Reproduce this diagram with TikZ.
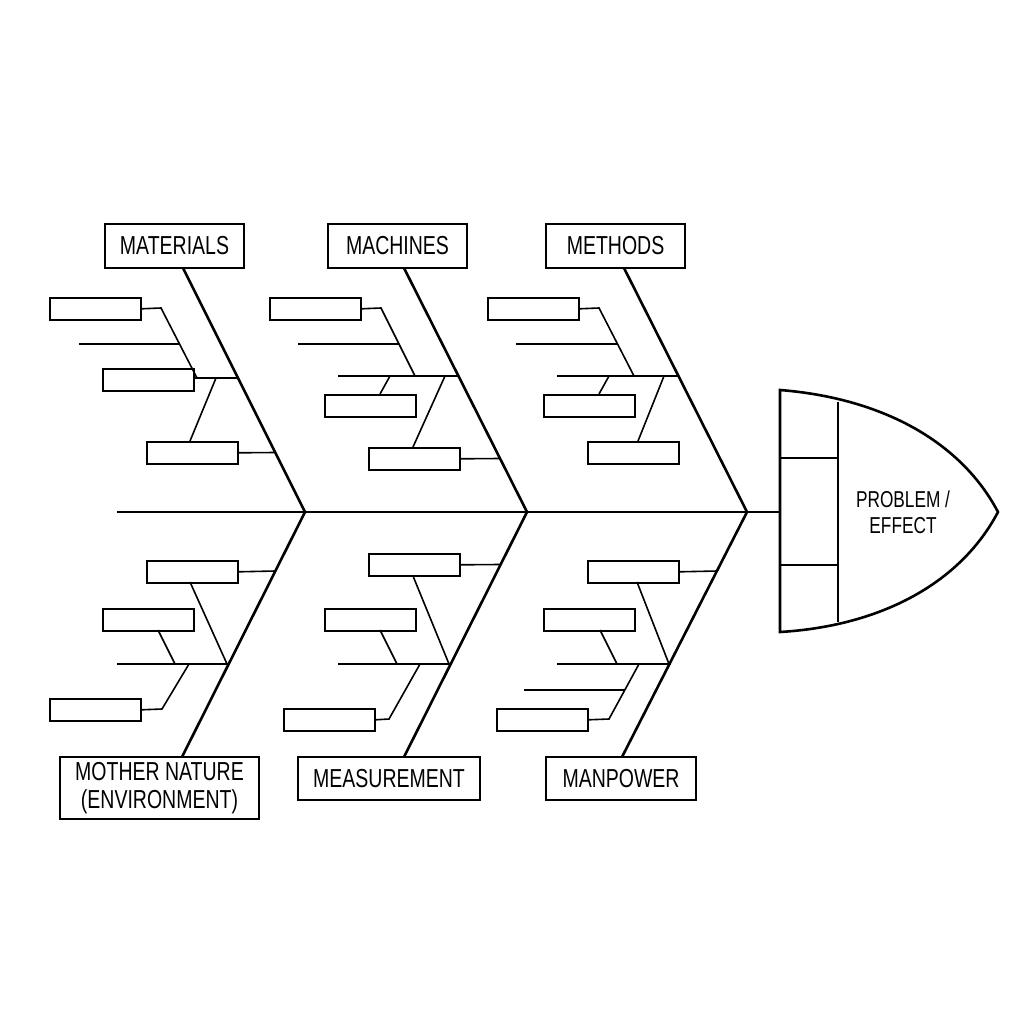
\documentclass[tikz,border=0pt]{standalone}
\usepackage{fontspec}
\setmainfont{Liberation Sans}[FakeStretch=0.75]
\begin{document}
\begin{tikzpicture}[x=1pt,y=-1pt,
  bone/.style={line width=2.6pt,line join=miter},
  sub/.style={line width=1.6pt},
  sb/.style={draw,line width=1.6pt,minimum width=91pt,minimum height=22pt,inner sep=0pt,anchor=north west},
  lb/.style={draw,line width=2.4pt,inner sep=0pt,font=\fontsize{26}{28}\selectfont,align=center}]
\useasboundingbox (0,0) rectangle (1024,1024);
\fill[white] (0,0) rectangle (1024,1024);
% joints
\coordinate (j1) at (305,512);
\coordinate (j2) at (527,512);
\coordinate (j3) at (747,512);
\coordinate (tail) at (117,512);
% head
\draw[bone] (780,390) .. controls (880,398) and (960,440) .. (998,512)
  .. controls (960,584) and (880,626) .. (780,632) -- cycle;
\draw[bone] (838,402) -- (838,622);
\draw[bone] (780,458) -- (838,458);
\draw[bone] (780,565) -- (838,565);
\coordinate (head) at (780,512);
\node[font=\fontsize{23}{26}\selectfont,align=center] (pe) at (903,512) {PROBLEM /\\EFFECT};
% spine
\draw[bone] (tail) -- (head);
% label boxes
\node[lb,minimum width=139pt,minimum height=44pt] (mat) at (174.5,246) {MATERIALS};
\node[lb,minimum width=139pt,minimum height=44pt] (mac) at (397.5,246) {MACHINES};
\node[lb,minimum width=139pt,minimum height=44pt] (met) at (615.5,246) {METHODS};
\node[lb,minimum width=199pt,minimum height=62pt] (env) at (159.5,788) {MOTHER NATURE\\(ENVIRONMENT)};
\node[lb,minimum width=182pt,minimum height=43pt] (mea) at (389,778.5) {MEASUREMENT};
\node[lb,minimum width=150pt,minimum height=43pt] (man) at (621,778.5) {MANPOWER};
% main bones
\draw[bone] (183,268) -- (j1) -- (182,757);
\draw[bone] (404,268) -- (j2) -- (404,757);
\draw[bone] (624,268) -- (j3) -- (622,757);
% ---- Materials
\node[sb] (a1) at (49,297) {};
\node[sb] (a2) at (102,368) {};
\node[sb] (a3) at (146,441) {};
\draw[sub] (a1.east) -- (161,308) -- (197,378);
\draw[sub] (79,344) -- (179.5,344);
\draw[sub] (a2.east |- 0,378) -- (238,378);
\draw[sub] (216,378) -- (190,441);
\draw[sub] (a3.east) -- (275.5,452.5);
% ---- Machines
\node[sb] (b1) at (269,297) {};
\node[sb] (b2) at (324,394) {};
\node[sb] (b3) at (368,447) {};
\draw[sub] (b1.east) -- (381,308) -- (415,376);
\draw[sub] (298,344) -- (399,344);
\draw[sub] (338,376) -- (459,376);
\draw[sub] (390,376) -- (380,394);
\draw[sub] (445,376) -- (413,447);
\draw[sub] (b3.east) -- (500,458.5);
% ---- Methods
\node[sb] (c1) at (487,297) {};
\node[sb] (c2) at (543,394) {};
\node[sb] (c3) at (587,441) {};
\draw[sub] (c1.east) -- (599,308) -- (634,376);
\draw[sub] (516,344) -- (617,344);
\draw[sub] (557,376) -- (679,376);
\draw[sub] (609,376) -- (599,394);
\draw[sub] (664,376) -- (638,441);
% ---- Mother Nature
\node[sb] (d1) at (146,560) {};
\node[sb] (d2) at (102,608) {};
\node[sb] (d3) at (49,698) {};
\draw[sub] (d1.east) -- (275.5,571);
\draw[sub] (117,664) -- (229,664);
\draw[sub] (190,582) -- (227,664);
\draw[sub] (158,630) -- (175,664);
\draw[sub] (189,664) -- (162,709) -- (d3.east);
% ---- Measurement
\node[sb] (e1) at (368,553) {};
\node[sb] (e2) at (324,608) {};
\node[sb] (e3) at (283,708) {};
\draw[sub] (e1.east) -- (500,564.5);
\draw[sub] (338,664) -- (451,664);
\draw[sub] (413,576) -- (449,664);
\draw[sub] (380,630) -- (397,664);
\draw[sub] (420,664) -- (389,719) -- (e3.east);
% ---- Manpower
\node[sb] (f1) at (587,560) {};
\node[sb] (f2) at (543,608) {};
\node[sb] (f3) at (496,708) {};
\draw[sub] (f1.east) -- (717.5,571);
\draw[sub] (557,664) -- (671,664);
\draw[sub] (637,582) -- (669,664);
\draw[sub] (600,630) -- (617,664);
\draw[sub] (639,664) -- (609,719) -- (f3.east);
\draw[sub] (524,690) -- (625,690);
\end{tikzpicture}
\end{document}
